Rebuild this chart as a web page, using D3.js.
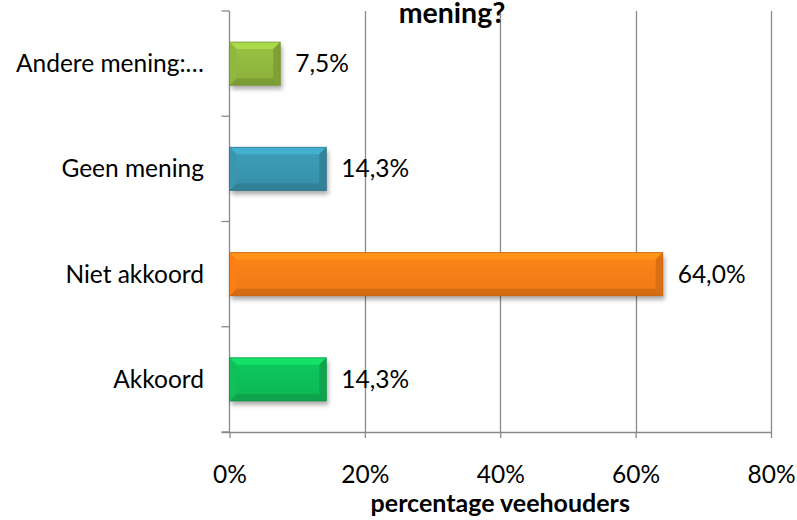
<!DOCTYPE html>
<html>
<head>
<meta charset="utf-8">
<script src="https://cdn.jsdelivr.net/npm/d3@7"></script>
<style>
  html, body { margin: 0; padding: 0; background: #fff; }
  svg { display: block; }
  text { font-family: Lato, "Open Sans", "DejaVu Sans", sans-serif; fill: #000; }
</style>
</head>
<body>
<svg id="chart" width="797" height="520"></svg>
<script>
// Categories from bottom to top, with their share of livestock farmers (%)
const categories = ["Akkoord", "Niet akkoord", "Geen mening", "Andere mening:…"];
const values = [14.3, 64.0, 14.3, 7.5];
const valueLabels = ["14,3%", "64,0%", "14,3%", "7,5%"];
const barColors = ["#10b956", "#f37a14", "#3891aa", "#8cb23c"];
const xTicks = [0, 20, 40, 60, 80];
const xTickLabels = ["0%", "20%", "40%", "60%", "80%"];
const titleText = "mening?";
const xAxisTitle = "percentage veehouders";

const svg = d3.select("#chart");
const plot = { left: 229.5, right: 771, top: 11, bottom: 432 };
const gridColor = "#8a8a8a";
const fontSize = 24.5;

const x = d3.scaleLinear().domain([0, 80]).range([plot.left, plot.right]);
const y = d3.scaleBand()
  .domain(categories.slice().reverse())
  .range([plot.top, plot.bottom])
  .paddingInner(0.59)
  .paddingOuter(0.295);

// Drop shadow for the bars
const defs = svg.append("defs");
const f = defs.append("filter").attr("id", "shadow")
  .attr("x", "-5%").attr("y", "-20%").attr("width", "115%").attr("height", "160%");
f.append("feDropShadow").attr("dx", 2).attr("dy", 4).attr("stdDeviation", 2.2)
  .attr("flood-color", "#000").attr("flood-opacity", 0.32);

// Vertical gridlines
svg.append("g").selectAll("line").data(xTicks.slice(1)).join("line")
  .attr("x1", d => Math.round(x(d)) + 0.5).attr("x2", d => Math.round(x(d)) + 0.5)
  .attr("y1", plot.top).attr("y2", plot.bottom)
  .attr("stroke", gridColor).attr("stroke-width", 1.3);

// X axis (line + outward ticks)
const xAxis = d3.axisBottom(x).tickValues(xTicks).tickSize(6).tickFormat("");
const gx = svg.append("g").attr("transform", `translate(0,${plot.bottom})`).call(xAxis);
gx.select(".domain").attr("stroke", gridColor).attr("stroke-width", 1.3)
  .attr("d", `M${plot.left - 8},0.5H${plot.right}`);
gx.selectAll(".tick line").attr("stroke", gridColor).attr("stroke-width", 1.3);

gx.selectAll(".tick").append("text")
  .attr("y", 51).attr("text-anchor", "middle")
  .attr("font-size", fontSize)
  .text((d, i) => xTickLabels[i]);

// Y axis with ticks at the category boundaries
const boundaries = d3.range(categories.length + 1).map(i => plot.top + i * y.step());
svg.append("line")
  .attr("x1", plot.left).attr("x2", plot.left)
  .attr("y1", plot.top).attr("y2", plot.bottom)
  .attr("stroke", gridColor).attr("stroke-width", 1.3);
svg.append("g").selectAll("line").data(boundaries).join("line")
  .attr("x1", plot.left - 8).attr("x2", plot.left)
  .attr("y1", d => d).attr("y2", d => d)
  .attr("stroke", gridColor).attr("stroke-width", 1.3);

// Category labels
svg.append("g").selectAll("text").data(categories).join("text")
  .attr("x", 204)
  .attr("y", d => y(d) + y.bandwidth() / 2)
  .attr("dy", "0.35em")
  .attr("text-anchor", "end")
  .attr("font-size", fontSize)
  .text(d => d);

// Bevelled bars
const bars = svg.append("g").selectAll("g.bar")
  .data(categories.map((c, i) => ({ c, v: values[i], color: barColors[i], label: valueLabels[i] })))
  .join("g").attr("class", "bar");

bars.each(function (d, i) {
  const g = d3.select(this);
  const x0 = x(0), x1 = x(d.v), y0 = y(d.c), h = y.bandwidth(), y1 = y0 + h;
  const b = 7;
  const base = d3.color(d.color);

  const grad = defs.append("linearGradient").attr("id", "face" + i)
    .attr("x1", 0).attr("y1", 0).attr("x2", 0).attr("y2", 1);
  grad.append("stop").attr("offset", "0%").attr("stop-color", base.brighter(0.25));
  grad.append("stop").attr("offset", "100%").attr("stop-color", base.darker(0.05));

  const bg = g.append("g").attr("filter", "url(#shadow)");
  bg.append("rect").attr("x", x0).attr("y", y0).attr("width", x1 - x0).attr("height", h)
    .attr("fill", `url(#face${i})`);

  const poly = pts => pts.map(p => p.join(",")).join(" ");
  // top bevel
  g.append("polygon").attr("points", poly([[x0, y0], [x1, y0], [x1 - b, y0 + b], [x0 + b, y0 + b]]))
    .attr("fill", base.brighter(0.55));
  // bottom bevel
  g.append("polygon").attr("points", poly([[x0, y1], [x1, y1], [x1 - b, y1 - b], [x0 + b, y1 - b]]))
    .attr("fill", base.darker(0.35));
  // left bevel
  g.append("polygon").attr("points", poly([[x0, y0], [x0 + b, y0 + b], [x0 + b, y1 - b], [x0, y1]]))
    .attr("fill", base.brighter(0.1));
  // right bevel
  g.append("polygon").attr("points", poly([[x1, y0], [x1 - b, y0 + b], [x1 - b, y1 - b], [x1, y1]]))
    .attr("fill", base.darker(0.3));
  // outline
  g.append("rect").attr("x", x0).attr("y", y0).attr("width", x1 - x0).attr("height", h)
    .attr("fill", "none").attr("stroke", base.darker(0.7)).attr("stroke-width", 1).attr("stroke-opacity", 0.7);

  // value label
  g.append("text")
    .attr("x", x1 + 15)
    .attr("y", y0 + h / 2)
    .attr("dy", "0.35em")
    .attr("font-size", fontSize)
    .text(d.label);
});

// Chart title (its last line sits right at the top edge)
svg.append("text")
  .attr("x", 452).attr("y", 23)
  .attr("text-anchor", "middle")
  .attr("font-size", 28.5)
  .attr("font-weight", 700)
  .text(titleText);

// X axis title
svg.append("text")
  .attr("x", (plot.left + plot.right) / 2).attr("y", 512)
  .attr("text-anchor", "middle")
  .attr("font-size", 25)
  .attr("font-weight", 700)
  .text(xAxisTitle);
</script>
</body>
</html>
